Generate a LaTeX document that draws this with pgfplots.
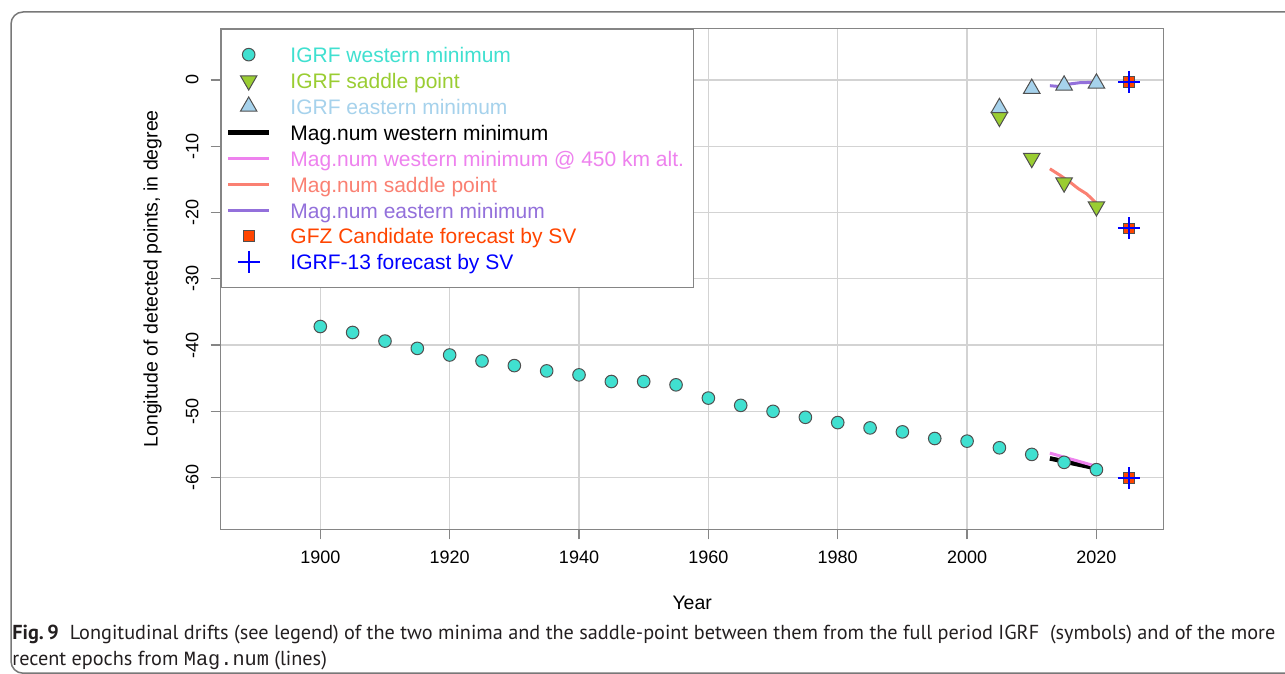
\documentclass[border=0pt]{standalone}
\usepackage{fontspec}
\setmainfont{Liberation Sans}
\newfontfamily\capfont{PT Sans}
\newfontfamily\capmono{Liberation Mono}
\usepackage{graphicx}
\usepackage{pgfplots}
\pgfplotsset{compat=1.18}

\definecolor{turq}{HTML}{40E0D0}
\definecolor{ygreen}{HTML}{9ACD32}
\definecolor{lblue}{HTML}{A6D2EC}
\definecolor{violetR}{HTML}{EE82EE}
\definecolor{salmonR}{HTML}{FA8072}
\definecolor{mpurple}{HTML}{9370DB}
\definecolor{orangeredR}{HTML}{FF4500}
\definecolor{gridgray}{HTML}{D3D3D3}
\definecolor{boxgray}{HTML}{858585}
\definecolor{markedge}{HTML}{505050}
\definecolor{capcol}{HTML}{231F20}

\pgfplotstableread{
year lon
1900 -37.2
1905 -38.1
1910 -39.4
1915 -40.5
1920 -41.5
1925 -42.4
1930 -43.1
1935 -43.9
1940 -44.5
1945 -45.5
1950 -45.5
1955 -46.0
1960 -48.0
1965 -49.1
1970 -50.0
1975 -50.9
1980 -51.7
1985 -52.5
1990 -53.1
1995 -54.1
2000 -54.5
2005 -55.5
2010 -56.5
2015 -57.7
2020 -58.8
}\westtab

\pgfplotstableread{
year lon
2005 -5.6
2010 -11.8
2015 -15.5
2020 -19.1
}\saddletab

\pgfplotstableread{
year lon
2005 -4.2
2010 -1.3
2015 -0.8
2020 -0.5
}\easttab

\pgfplotstableread{
year lon
2025 -0.3
2025 -22.4
2025 -60.1
}\forecasttab

\newsavebox\capA
\newsavebox\capB
\newdimen\capw

\begin{document}%
\sbox\capA{\color{capcol}\capfont\fontsize{10}{12}\selectfont\textbf{Fig.\,9}\hspace{0.55em}Longitudinal drifts (see legend) of the two minima and the saddle-point between them from the full period IGRF\ \ (symbols) and of the more}%
\sbox\capB{\color{capcol}\capfont\fontsize{10}{12}\selectfont recent epochs from {\capmono Mag.num} (lines)}%
\capw=\wd\capA%
\pgfmathsetmacro\capscale{631.5/\capw}%
\begin{tikzpicture}
\useasboundingbox (0,0) rectangle (642.5pt,337pt);
\draw[boxgray!90!black, line width=0.75pt, rounded corners=6pt] (5.5pt,0.4pt) rectangle (700pt,331pt);
\begin{axis}[
  at={(110.35pt,72.35pt)}, anchor=south west,
  scale only axis, width=471.5pt, height=250.5pt,
  xmin=1884.6, xmax=2030.4, ymin=-67.8, ymax=7.8,
  xtick={1900,1920,...,2020}, ytick={-60,-50,...,0},
  grid=major, grid style={gridgray, line width=0.65pt},
  axis line style={boxgray, line width=0.65pt},
  tick style={boxgray, line width=0.65pt},
  major tick length=5pt, tick align=outside, tick pos=left,
  /pgf/number format/1000 sep={},
  /pgf/number format/assume math mode=true,
  tick label style={font=\fontsize{9}{10}\selectfont},
  xticklabel style={yshift=-2.5pt},
  yticklabel style={xshift=-2.5pt, rotate=90, anchor=south},
  xlabel={Year}, ylabel={Longitude of detected points, in degree},
  label style={font=\fontsize{9.75}{11}\selectfont},
  xlabel style={at={(axis description cs:0.5,-0.147)}, anchor=center},
  ylabel style={at={(axis description cs:-0.0723,0.5)}, anchor=center},
  legend image code/.code={\draw[mark repeat=2,mark phase=2,#1] plot coordinates {(0pt,0pt) (10.25pt,0pt) (20.5pt,0pt)};},
  legend cell align=left,
  legend style={at={(0,1)}, anchor=north west, draw=boxgray, line width=0.65pt, fill=white,
    inner xsep=2.3pt, inner ysep=7.1pt, row sep=1.45pt,
    font=\fontsize{10.5}{12}\selectfont,
    nodes={inner xsep=2.5pt, inner ysep=0pt, text height=9.75pt, text depth=1.75pt},
    /tikz/every odd column/.append style={column sep=7pt}},
]
\addplot[only marks, mark=*, mark size=3.15pt, mark options={fill=turq, draw=markedge, line width=0.5pt}] table[x=year,y=lon] {\westtab};
\addlegendentry{\textcolor{turq}{IGRF western minimum}}
\addplot[only marks, mark=triangle*, mark size=4.75pt, mark options={rotate=180, fill=ygreen, draw=markedge, line width=0.5pt}] table[x=year,y=lon] {\saddletab};
\addlegendentry{\textcolor{ygreen}{IGRF saddle point}}
\addplot[only marks, mark=triangle*, mark size=4.75pt, mark options={fill=lblue, draw=markedge, line width=0.5pt}] table[x=year,y=lon] {\easttab};
\addlegendentry{\textcolor{lblue}{IGRF eastern minimum}}
\addplot[black, line width=2.25pt, no marks] coordinates {(2012.8,-57.1) (2016.4,-57.85) (2020,-58.6)};
\addlegendentry{Mag.num western minimum}
\addplot[violetR, line width=1.5pt, no marks] coordinates {(2012.8,-56.3) (2016.4,-57.3) (2020,-58.3)};
\addlegendentry{\textcolor{violetR}{Mag.num western minimum @ 450 km alt.}}
\addplot[salmonR, line width=1.5pt, no marks] coordinates {(2012.8,-13.4) (2014.4,-14.4) (2015.9,-15.4) (2017.2,-16.4) (2018.5,-17.2) (2020,-18.6)};
\addlegendentry{\textcolor{salmonR}{Mag.num saddle point}}
\addplot[mpurple, line width=1.5pt, no marks] coordinates {(2012.8,-0.86) (2014.4,-1.0) (2015.9,-0.6) (2017.5,-0.4) (2020,-0.35)};
\addlegendentry{\textcolor{mpurple}{Mag.num eastern minimum}}
\addplot[only marks, mark=square*, mark size=2.65pt, mark options={fill=orangeredR, draw=markedge, line width=0.5pt}] table[x=year,y=lon] {\forecasttab};
\addlegendentry{\textcolor{orangeredR}{GFZ Candidate forecast by SV}}
\addplot[only marks, mark=+, mark size=5.5pt, mark options={blue, line width=1pt}] table[x=year,y=lon] {\forecasttab};
\addlegendentry{\textcolor{blue}{IGRF-13 forecast by SV}}
\end{axis}
\node[anchor=base west, inner sep=0pt] at (6pt,17pt) {\scalebox{\capscale}{\usebox\capA}};
\node[anchor=base west, inner sep=0pt] at (6pt,4pt) {\scalebox{\capscale}{\usebox\capB}};
\end{tikzpicture}%
\end{document}
